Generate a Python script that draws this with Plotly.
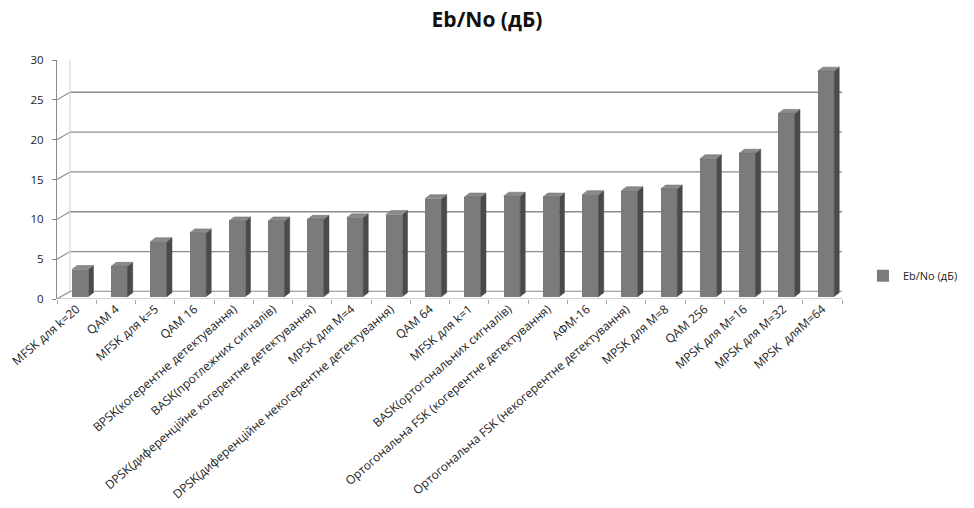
import plotly.graph_objects as go

# Modulation schemes and the required Eb/No in dB
categories = [
    "MFSK для k=20", "QAM 4", "MFSK для k=5", "QAM 16",
    "BPSK(когерентне детектування)", "BASK(протлежних сигналів)",
    "DPSK(диференційне когерентне детектування)", "MPSK для M=4",
    "DPSK(диференційне некогерентне детектування)", "QAM 64",
    "MFSK для k=1", "BASK(ортогональних сигналів)",
    "Ортогональна FSK (когерентне детектування)", "АФМ-16",
    "Ортогональна FSK (некогерентне детектування)", "MPSK для M=8",
    "QAM 256", "MPSK для M=16", "MPSK для M=32", "MPSK  дляM=64",
]
values = [3.4, 3.8, 6.9, 8.0, 9.5, 9.5, 9.7, 9.9, 10.3, 12.3,
          12.5, 12.6, 12.5, 12.8, 13.3, 13.5, 17.3, 18.0, 23.0, 28.3]
y_ticks = [0, 5, 10, 15, 20, 25, 30]
series_name = "Eb/No (дБ)"

# Pseudo-3D geometry (data units)
WALL_DX, WALL_DY = 0.33, 0.95     # depth of the back wall
BAR_SHIFT, BAR_BASE = 0.09, 0.30  # bars stand a little behind the front edge
BAR_W = 0.42
SIDE_DX, SIDE_DY = 0.13, 0.5      # visible depth of each column

FRONT = "#7b7b7b"
SIDE = "#4a4a4a"
TOP = "#8a8a8a"
GRID = "#8c8c8c"
FLOOR = "#a6a6a6"
FONT = "Open Sans"

xs = [i + BAR_SHIFT for i in range(len(values))]

fig = go.Figure()

fig.add_trace(go.Bar(
    x=xs, y=values, base=[BAR_BASE] * len(values), width=BAR_W,
    marker=dict(color=FRONT, line=dict(width=0)),
    name=series_name, showlegend=True,
))

# right side faces and top faces of the columns
side_x, side_y, top_x, top_y = [], [], [], []
for x, v in zip(xs, values):
    xl, xr = x - BAR_W / 2, x + BAR_W / 2
    yb, yt = BAR_BASE, BAR_BASE + v
    side_x += [xr, xr + SIDE_DX, xr + SIDE_DX, xr, xr, None]
    side_y += [yb, yb + SIDE_DY, yt + SIDE_DY, yt, yb, None]
    top_x += [xl, xr, xr + SIDE_DX, xl + SIDE_DX, xl, None]
    top_y += [yt, yt, yt + SIDE_DY, yt + SIDE_DY, yt, None]

fig.add_trace(go.Scatter(x=side_x, y=side_y, mode="lines", fill="toself",
                         fillcolor=SIDE, line=dict(width=0.5, color=SIDE),
                         showlegend=False, hoverinfo="skip"))
fig.add_trace(go.Scatter(x=top_x, y=top_y, mode="lines", fill="toself",
                         fillcolor=TOP, line=dict(width=0.5, color="#666666"),
                         showlegend=False, hoverinfo="skip"))

x0, x1 = -0.5, len(categories) - 0.5
shapes = []
# back wall gridlines and side-wall connectors
for t in y_ticks:
    shapes.append(dict(type="line", xref="x", yref="y", layer="below",
                       x0=x0 + WALL_DX, x1=x1 + WALL_DX, y0=t + WALL_DY, y1=t + WALL_DY,
                       line=dict(color=GRID, width=1.3)))
    shapes.append(dict(type="line", xref="x", yref="y", layer="below",
                       x0=x0, x1=x0 + WALL_DX, y0=t, y1=t + WALL_DY,
                       line=dict(color=GRID, width=1.1)))
# back wall left edge
shapes.append(dict(type="line", xref="x", yref="y", layer="below",
                   x0=x0 + WALL_DX, x1=x0 + WALL_DX, y0=WALL_DY, y1=y_ticks[-1] + WALL_DY,
                   line=dict(color="#d0d0d0", width=1)))
# floor outline
shapes.append(dict(type="path", xref="x", yref="y", layer="below",
                   path=f"M {x0},0 L {x1},0 L {x1 + WALL_DX},{WALL_DY} L {x0 + WALL_DX},{WALL_DY} Z",
                   line=dict(color=FLOOR, width=1.1), fillcolor="rgba(0,0,0,0)"))

fig.update_layout(
    width=974, height=508,
    margin=dict(l=57, r=132, t=60, b=209, autoexpand=False),
    paper_bgcolor="white", plot_bgcolor="white",
    font=dict(family=FONT, color="#222222", size=11),
    title=dict(text="<b>Eb/No (дБ)</b>", x=0.5, xref="container", xanchor="center",
               y=0.962, yref="container", yanchor="middle",
               font=dict(family=FONT, size=21, color="#111111")),
    shapes=shapes,
    bargap=0,
    legend=dict(x=0.886, xref="container", y=0.457, yref="container",
                xanchor="left", yanchor="middle",
                font=dict(size=11, family=FONT, color="#222222"),
                bgcolor="rgba(0,0,0,0)", itemwidth=30),
    xaxis=dict(
        range=[x0, x1], tickmode="array",
        tickvals=list(range(len(categories))), ticktext=categories,
        tickangle=-41, ticks="", showgrid=False, zeroline=False,
        showline=False, automargin=False,
        tickfont=dict(size=12, family=FONT, color="#222222"),
        minor=dict(tick0=-0.5, dtick=1, ticks="outside", ticklen=4,
                   tickcolor=FLOOR, showgrid=False),
    ),
    yaxis=dict(
        range=[0, 30], tickvals=y_ticks, showgrid=False, zeroline=False,
        showline=True, linecolor=GRID, linewidth=1.1,
        ticks="outside", ticklen=4, tickcolor=GRID,
        ticklabelstandoff=6, automargin=False,
        tickfont=dict(size=11.5, family=FONT, color="#222222"),
    ),
)

fig.write_html("out.html")
